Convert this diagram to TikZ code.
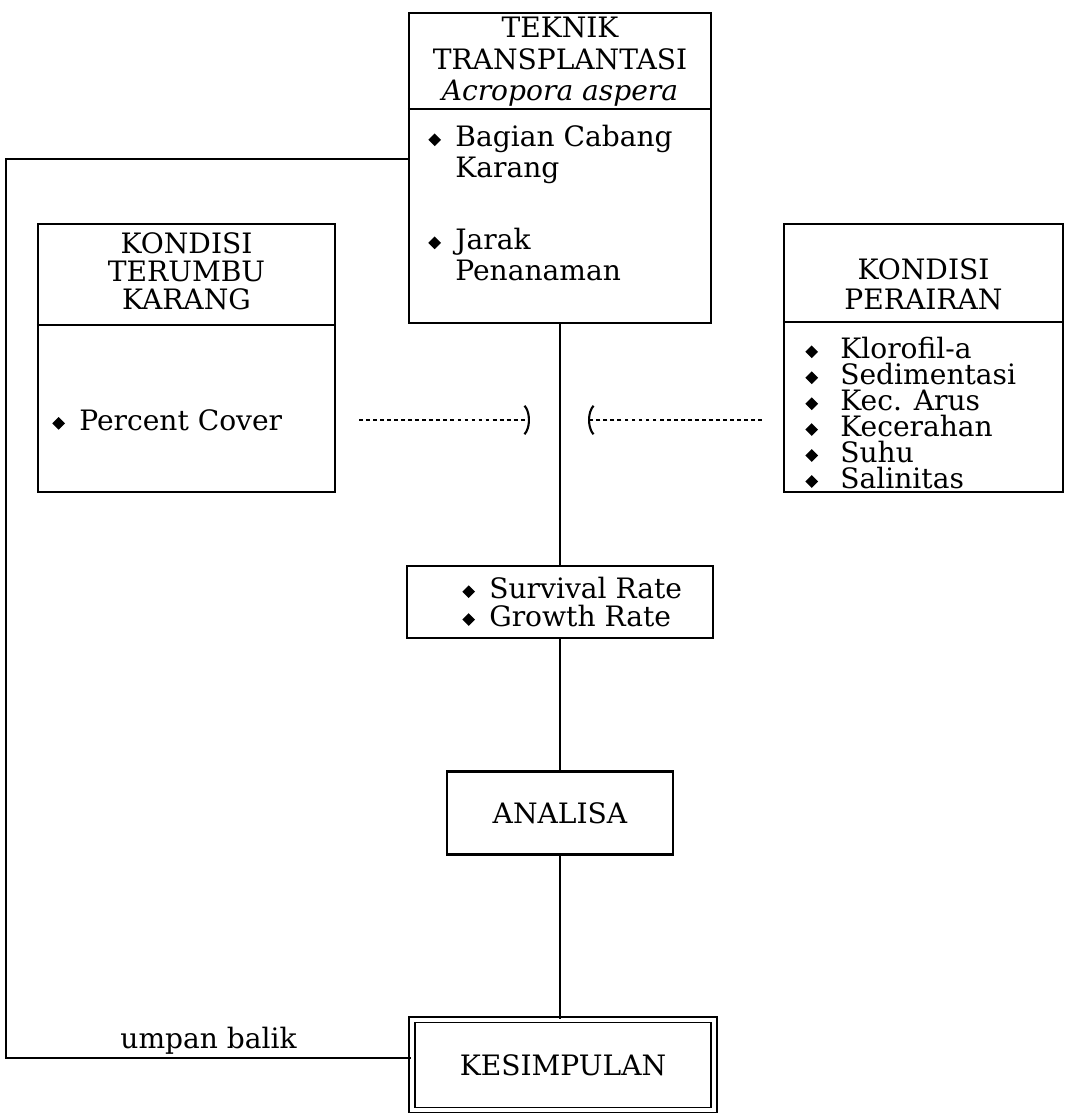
\documentclass[tikz,border=0pt]{standalone}
\usepackage{fontspec}
\setmainfont{DejaVu Serif}
\usetikzlibrary{arrows.meta,positioning}
\newcommand{\bul}{\makebox[0.54cm][l]{\raisebox{0.01cm}{\rotatebox{45}{\rule{0.18cm}{0.18cm}}}}}
\newcommand{\bulw}{\makebox[0.7cm][l]{\raisebox{0.01cm}{\rotatebox{45}{\rule{0.18cm}{0.18cm}}}}}

\begin{document}
\begin{tikzpicture}[x=0.02cm,y=-0.02cm,font=\fontsize{16}{17}\selectfont,
 box/.style={draw,line width=1.3pt,inner sep=0pt},
 divline/.style={line width=1.3pt},
 title/.style={align=center,inner sep=0pt},
 lst/.style={anchor=north west,align=left,inner sep=0pt},
 link/.style={line width=0.8pt},
 dots/.style={line width=1.2pt,dash pattern=on 2.2pt off 1.8pt}]
\useasboundingbox (0,0) rectangle (1065,1113);
% kotak utama
\node[box,minimum width=6.04cm,minimum height=6.2cm] (tek) at (560,168) {};
\node[box,minimum width=5.94cm,minimum height=5.36cm] (tkr) at (186.5,358) {};
\node[box,minimum width=5.58cm,minimum height=5.36cm] (kp) at (923.5,358) {};
\node[box,minimum width=6.12cm,minimum height=1.44cm] (surv) at (560,602) {};
\node[box,minimum width=4.52cm,minimum height=1.66cm] (ana) at (560,813) {ANALISA};
\node[box,double,double distance=0.085cm,line width=0.9pt,
 minimum width=6.04cm,minimum height=1.81cm] (kes) at (563,1065) {KESIMPULAN};
% garis pembagi
\draw[divline] (tek.west |- 0,109) -- (tek.east |- 0,109);
\draw[divline] (tkr.west |- 0,325) -- (tkr.east |- 0,325);
\draw[divline] (kp.west |- 0,322) -- (kp.east |- 0,322);
% judul
\node[title,font=\fontsize{16}{18}\selectfont] (tektitle) at (560,62) {TEKNIK\\TRANSPLANTASI\\\textit{Acropora aspera}};
\node[title,font=\fontsize{16}{16}\selectfont] (tkrtitle) at (186.5,271) {KONDISI\\TERUMBU\\KARANG};
\node[title] (kptitle) at (923.5,284) {KONDISI\\PERAIRAN};
% isi
\node[lst,font=\fontsize{16}{17.6}\selectfont] (cabang) at (428,125) {\bul Bagian Cabang\\\hspace{0.54cm}Karang};
\node[lst,font=\fontsize{16}{17.6}\selectfont] (jarak) at (428,228) {\bul Jarak\\\hspace{0.54cm}Penanaman};
\node[lst,anchor=west] (cover) at (52,420) {\bul Percent Cover};
\node[lst,font=\fontsize{16}{14.75}\selectfont] (param) at (805,337)
 {\bulw Klorofil-a\\\bulw Sedimentasi\\\bulw Kec. Arus\\\bulw Kecerahan\\\bulw Suhu\\\bulw Salinitas};
\node[lst,anchor=west,font=\fontsize{16}{15.9}\selectfont] (rate) at (462,602) {\bul Survival Rate\\\bul Growth Rate};
% alur
\draw[link] (tek) -- (surv);
\draw[link] (surv) -- (ana);
\draw[link] (ana.south) -- (kes.north -| ana.south);
\coordinate (pl) at (530,420);
\coordinate (pr) at (588,420);
\draw[dots,shorten <=0.46cm,-{Parenthesis[length=2mm,width=7mm]}] (tkr.east |- pl) -- (pl);
\draw[dots,shorten <=0.42cm,-{Parenthesis[length=2mm,width=7mm]}] (kp.west |- pr) -- (pr);
% umpan balik
\coordinate (fb) at (6,159);
\coordinate (fbb) at (6,1058);
\draw[link] (tek.west |- fb) -- (fb) -- (fbb) -- node[above,inner sep=1.5pt]{umpan balik} (kes.west |- fbb);
\end{tikzpicture}
\end{document}
